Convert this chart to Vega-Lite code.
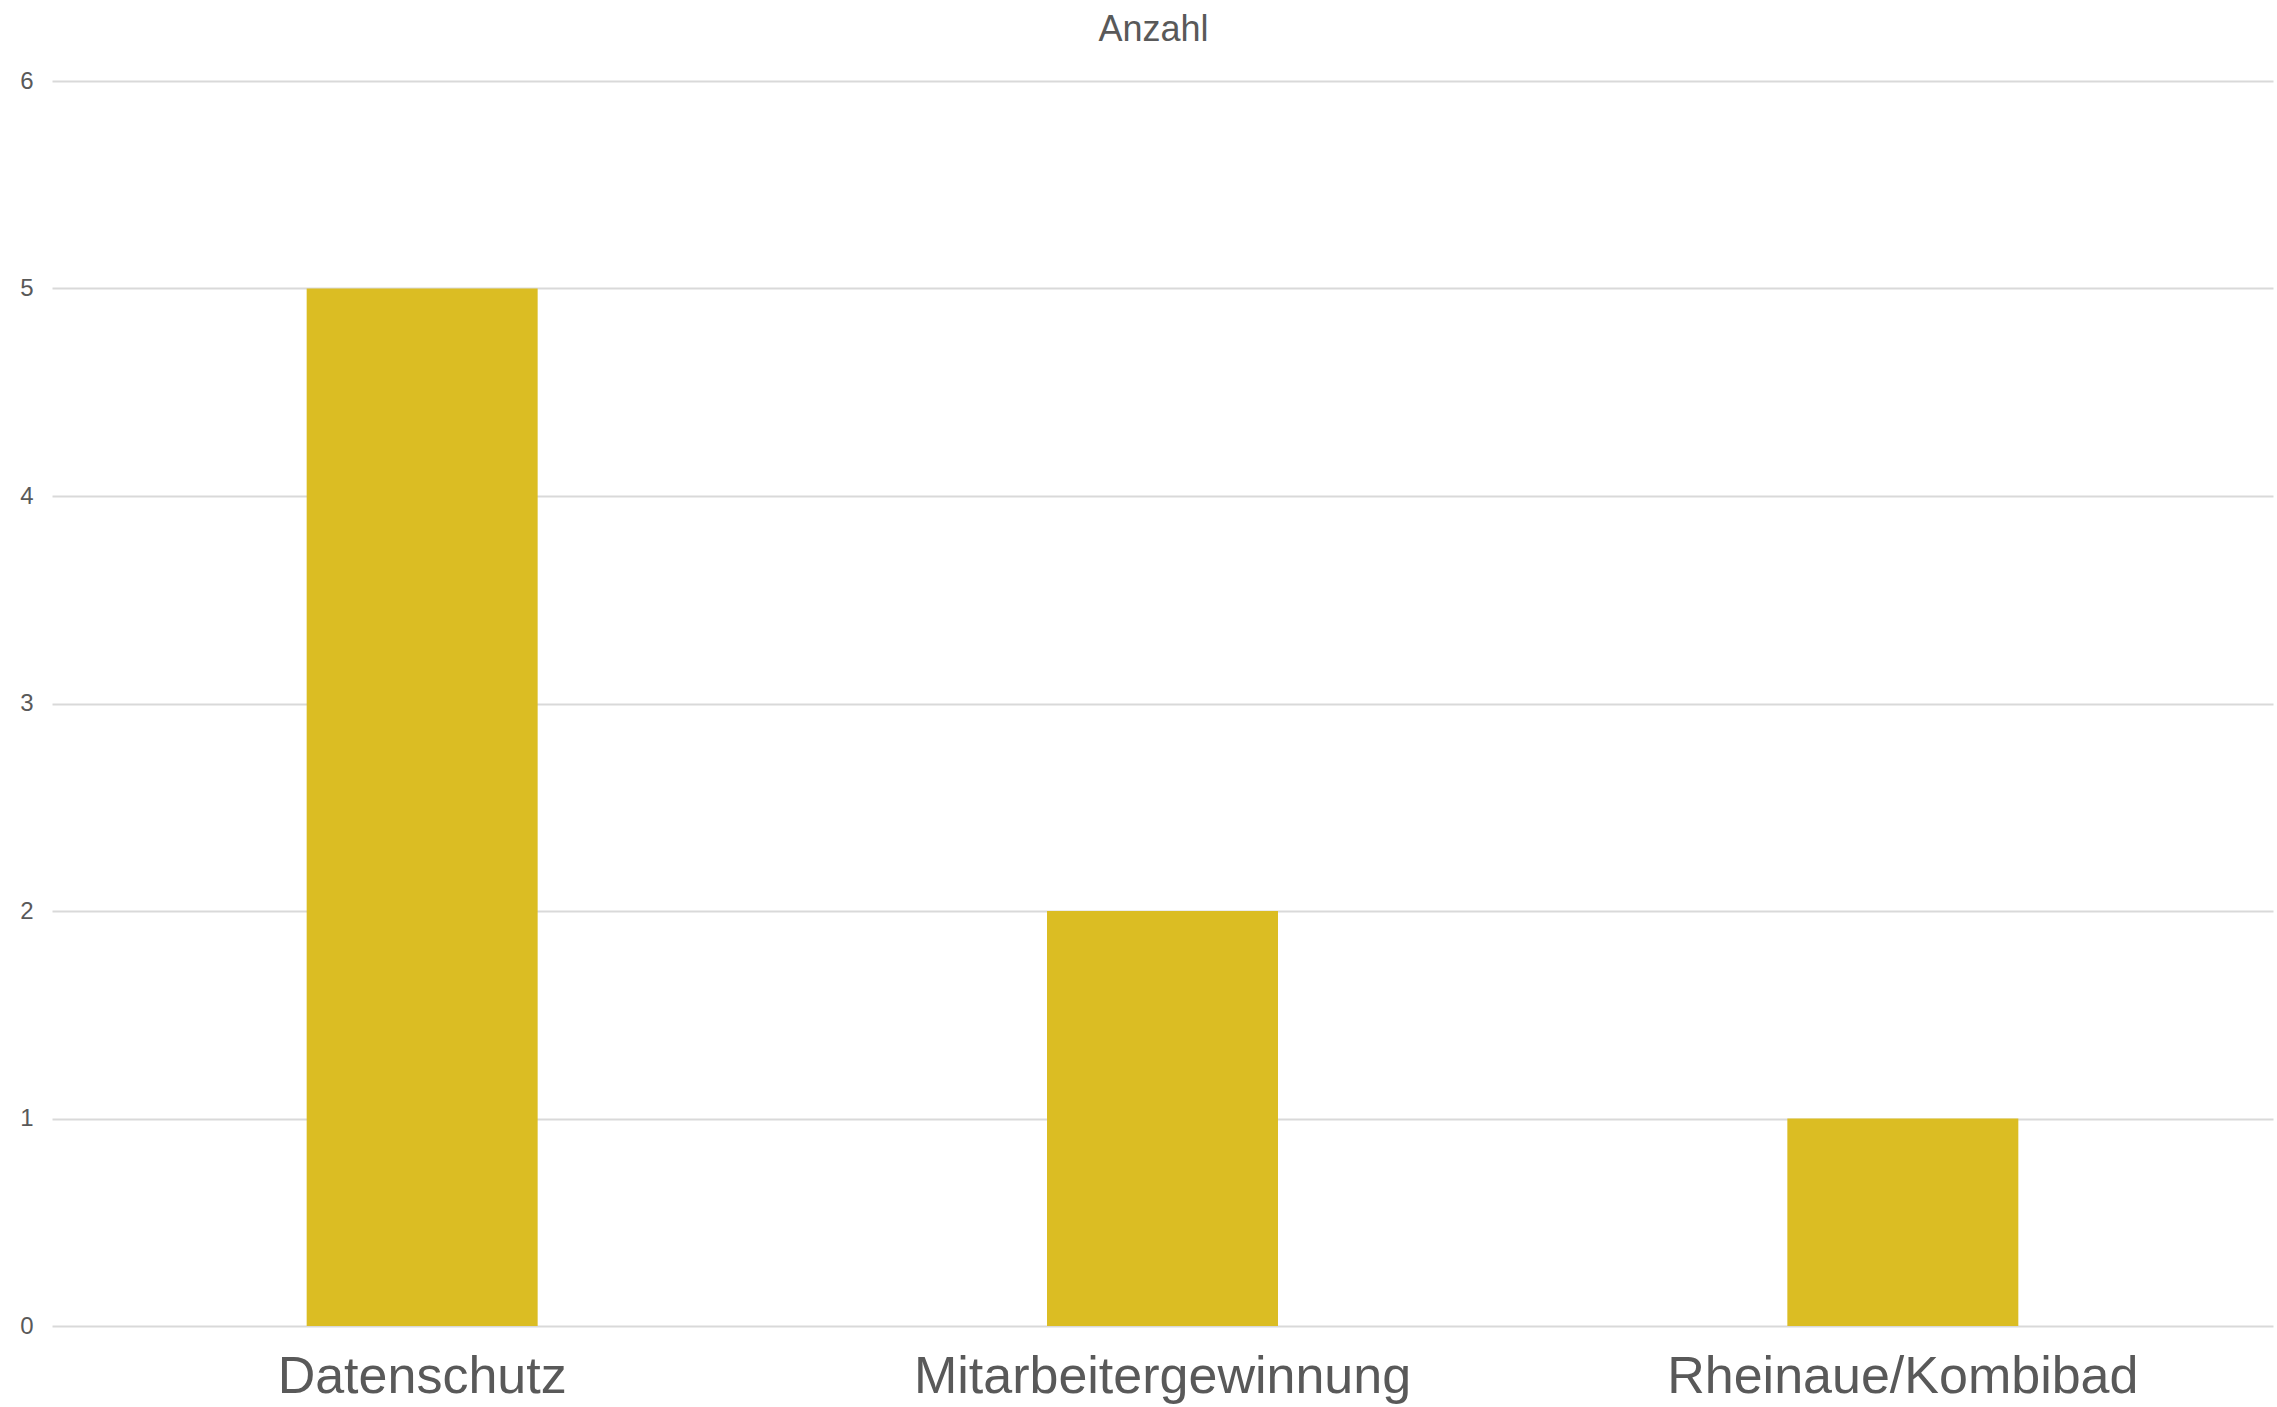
{
  "$schema": "https://vega.github.io/schema/vega-lite/v6.json",
  "autosize": "none",
  "width": 2221,
  "height": 1245,
  "padding": {"left": 52, "top": 81, "right": 4, "bottom": 81},
  "background": "white",
  "title": {
    "text": "Anzahl",
    "fontSize": 36,
    "font": "Liberation Sans",
    "fontWeight": "normal",
    "color": "#595959",
    "anchor": "middle",
    "frame": "group",
    "offset": 20,
    "dx": -9
  },
  "data": {
    "values": [
      {"Thema": "Datenschutz", "Anzahl": 5},
      {"Thema": "Mitarbeitergewinnung", "Anzahl": 2},
      {"Thema": "Rheinaue/Kombibad", "Anzahl": 1}
    ]
  },
  "mark": {"type": "bar", "color": "#DBBD23"},
  "encoding": {
    "x": {
      "field": "Thema",
      "type": "nominal",
      "sort": null,
      "scale": {"paddingInner": 0.688, "paddingOuter": 0.344},
      "axis": {
        "title": null,
        "labelAngle": 0,
        "labelFont": "Liberation Sans",
        "labelFontSize": 52,
        "labelColor": "#595959",
        "labelBaseline": "alphabetic",
        "labelPadding": 66,
        "labelLimit": 0,
        "ticks": false,
        "tickSize": 0,
        "domain": false,
        "grid": false
      }
    },
    "y": {
      "field": "Anzahl",
      "type": "quantitative",
      "scale": {"domain": [0, 6], "nice": false},
      "axis": {
        "title": null,
        "values": [0, 1, 2, 3, 4, 5, 6],
        "labelFont": "Liberation Sans",
        "labelFontSize": 24,
        "labelColor": "#595959",
        "labelPadding": 19,
        "labelBaseline": "middle",
        "ticks": false,
        "tickSize": 0,
        "domain": false,
        "grid": true,
        "gridColor": "#d9d9d9",
        "gridWidth": 2
      }
    }
  },
  "config": {"view": {"stroke": null}}
}
